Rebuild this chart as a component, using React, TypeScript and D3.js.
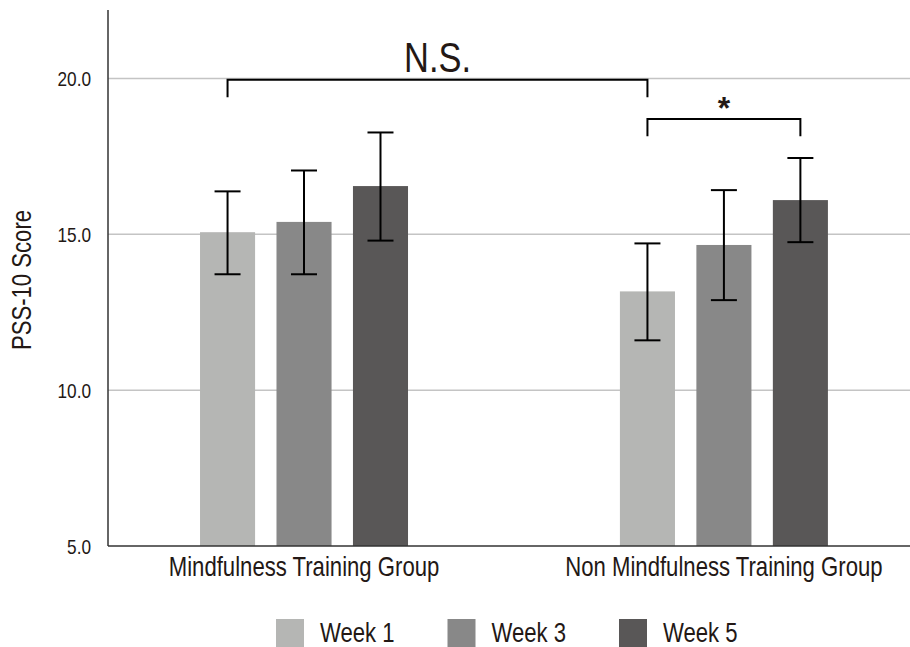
import React from "react";
import { scaleLinear, scalePoint, scaleBand } from "d3";

const groups = ["Mindfulness Training Group", "Non Mindfulness Training Group"];
const weeks = ["Week 1", "Week 3", "Week 5"];
const colors = ["#b5b6b4", "#888888", "#595757"];

// mean, upper and lower end of the error bar, per group, per week
const means = [
  [15.07, 15.4, 16.55],
  [13.17, 14.66, 16.1],
];
const upper = [
  [16.38, 17.05, 18.27],
  [14.71, 16.42, 17.45],
];
const lower = [
  [13.72, 13.72, 14.8],
  [11.6, 12.89, 14.75],
];
const yTicks = [5, 10, 15, 20];

const W = 910;
const H = 647;
const left = 108;
const right = 910;
const top = 10;
const bottom = 546;
const font = "'Liberation Sans', Arial, sans-serif";
const ink = "#231815";
const narrow = 0.82; // the original uses a condensed face

// text squeezed horizontally to mimic the condensed font
function NText({ x, y, size, anchor = "start", rotate = 0, dy, children }: any) {
  return (
    <g transform={`translate(${x},${y}) rotate(${rotate}) scale(${narrow},1)`}>
      <text textAnchor={anchor} dy={dy} fontSize={size} fontFamily={font} fill={ink}>
        {children}
      </text>
    </g>
  );
}

export default function App() {
  const y = scaleLinear().domain([5, 22.2]).range([bottom, top]);
  const x0 = scalePoint<string>().domain(groups).range([left, right]).padding(0.455).align(0.513);
  const x1 = scaleBand<string>().domain(weeks).range([-104, 104]).paddingInner(0.28).paddingOuter(0);
  const bw = x1.bandwidth();
  const cx = (g: number, w: number) => (x0(groups[g]) as number) + (x1(weeks[w]) as number) + bw / 2;
  const cap = 13;

  // significance brackets
  const ns = { x1: cx(0, 0), x2: cx(1, 0), top: y(19.96), foot: y(19.4) };
  const star = { x1: cx(1, 0), x2: cx(1, 2), top: y(18.7), foot: y(18.15) };

  return (
    <div style={{ position: "absolute", left: 0, top: 0 }}>
      <svg width={W} height={H} style={{ display: "block", background: "#fff" }}>
        {/* gridlines */}
        {yTicks.slice(1).map((t) => (
          <line key={t} x1={left} x2={right} y1={y(t)} y2={y(t)} stroke="#c4c4c4" strokeWidth={1.5} />
        ))}
        {/* tick labels */}
        {yTicks.map((t) => (
          <NText key={t} x={91} y={y(t)} dy="0.36em" anchor="end" size={21}>
            {t.toFixed(1)}
          </NText>
        ))}
        <NText x={31} y={(top + bottom) / 2 + 2} rotate={-90} anchor="middle" size={27}>
          PSS-10 Score
        </NText>

        {/* bars */}
        {groups.map((g, gi) =>
          weeks.map((w, wi) => (
            <rect
              key={g + w}
              x={cx(gi, wi) - bw / 2}
              y={y(means[gi][wi])}
              width={bw}
              height={bottom - y(means[gi][wi])}
              fill={colors[wi]}
            />
          ))
        )}
        {/* error bars */}
        {groups.map((g, gi) =>
          weeks.map((w, wi) => {
            const c = cx(gi, wi);
            const yu = y(upper[gi][wi]);
            const yl = y(lower[gi][wi]);
            return (
              <g key={"e" + g + w} stroke="#000" strokeWidth={2}>
                <line x1={c} x2={c} y1={yu} y2={yl} />
                <line x1={c - cap} x2={c + cap} y1={yu} y2={yu} />
                <line x1={c - cap} x2={c + cap} y1={yl} y2={yl} />
              </g>
            );
          })
        )}

        {/* axes */}
        <line x1={left} x2={left} y1={top} y2={bottom} stroke="#333" strokeWidth={1.5} />
        <line x1={left} x2={right} y1={bottom} y2={bottom} stroke="#333" strokeWidth={1.5} />
        {groups.map((g) => (
          <NText key={g} x={x0(g)} y={576} anchor="middle" size={27}>
            {g}
          </NText>
        ))}

        {/* brackets */}
        <path
          d={`M${ns.x1},${ns.foot}V${ns.top}H${ns.x2}V${ns.foot}`}
          fill="none"
          stroke="#000"
          strokeWidth={2}
        />
        <NText x={(ns.x1 + ns.x2) / 2} y={72} anchor="middle" size={42}>
          N.S.
        </NText>
        <path
          d={`M${star.x1},${star.foot}V${star.top}H${star.x2}V${star.foot}`}
          fill="none"
          stroke="#000"
          strokeWidth={2}
        />
        <text
          x={(star.x1 + star.x2) / 2}
          y={119}
          textAnchor="middle"
          fontSize={32}
          fontWeight="bold"
          fontFamily={font}
          fill={ink}
        >
          *
        </text>

        {/* legend */}
        {weeks.map((w, i) => (
          <g key={w} transform={`translate(${276 + i * 171.5},619)`}>
            <rect width={28} height={28} fill={colors[i]} />
            <NText x={44} y={23} size={27}>
              {w}
            </NText>
          </g>
        ))}
      </svg>
    </div>
  );
}
